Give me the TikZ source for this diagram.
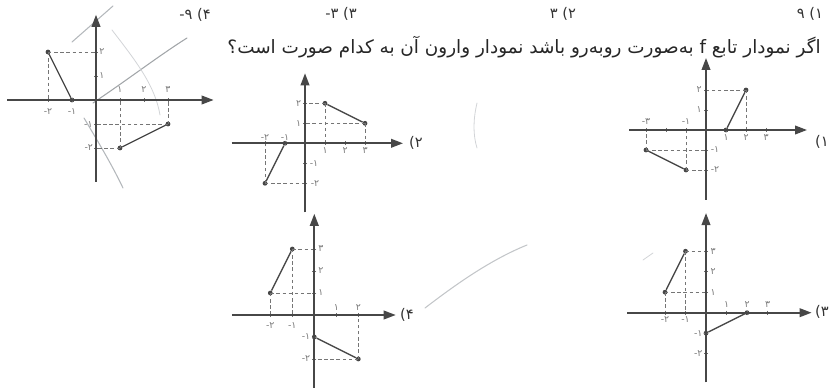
\documentclass[tikz,border=0pt]{standalone}
\usepackage{fontspec}
\TeXXeTstate=1
\newfontfamily\fa[Script=Arabic]{DejaVu Sans}
\usetikzlibrary{arrows.meta}
\definecolor{axisgray}{HTML}{474747}
\definecolor{labgray}{HTML}{7A7A7A}
\definecolor{scrib}{HTML}{B4B8BC}
\tikzset{
  axisline/.style={draw=axisgray, line width=1.3pt, -{Triangle[length=9pt,width=6.5pt]}},
  seg/.style={draw=axisgray, line width=1pt},
  guide/.style={draw=axisgray!75, dash pattern=on 2.6pt off 2pt, line width=0.5pt},
  tickmark/.style={draw=axisgray!80, line width=0.5pt},
  dot/.style={circle, fill=axisgray, inner sep=0pt, minimum size=3.6pt},
  tick/.style={font=\fa\fontsize{7}{8}\selectfont, text=labgray, inner sep=0.5pt},
  opt/.style={font=\fa\fontsize{11}{12}\selectfont, text=black!80, inner sep=0pt},
  scribble/.style={draw=scrib, line width=0.8pt, line cap=round},
}
\newcommand\plbl[4]{\node[tick] (#1) at (#2,#3) {#4};}
\begin{document}
\begin{tikzpicture}[x=0.75pt,y=-0.75pt]
\useasboundingbox (0,0) rectangle (830,388);

% ---------- question text and answer options ----------
\node[opt] (o4) at (195,15) {\beginR ۴) ۹-\endR};
\node[opt] (o3) at (341,14) {\beginR ۳) ۳-\endR};
\node[opt] (o2) at (563,14) {\beginR ۲) ۳\endR};
\node[opt] (o1) at (810,14) {\beginR ۱) ۹\endR};
\node[font=\fa\fontsize{13.8}{15}\selectfont, text=black!85, anchor=east, inner sep=0pt] (q) at (821,47)
  {\beginR اگر نمودار تابع f به‌صورت روبه‌رو باشد نمودار وارون آن به کدام صورت است؟\endR};

% ---------- pencil marks ----------
\draw[scribble] (72,42) -- (113,6);
\draw[scribble, draw=scrib!90!black] (93,103) .. controls (130,78) and (160,55) .. (187,38);
\draw[scribble] (84,118) .. controls (100,145) and (112,165) .. (123,188);
\draw[scribble, draw=scrib!60, line width=0.6pt] (112,30) .. controls (135,60) and (155,85) .. (160,115);
\draw[scribble, draw=scrib!80] (425,308) .. controls (455,285) and (490,260) .. (527,245);
\draw[scribble, draw=scrib!60, line width=0.6pt] (477,103) .. controls (473,120) and (473,135) .. (477,148);
\draw[scribble, draw=scrib!60, line width=0.6pt] (643,260) -- (653,253);

% ---------- graph of f ----------
\begin{scope}[shift={(96,100)}, x=18pt, y=18pt]
  \coordinate (f-o) at (0,0);
  \coordinate (f-xl) at (-3.7,0); \coordinate (f-xr) at (4.9,0);
  \coordinate (f-yb) at (0,-3.4); \coordinate (f-yt) at (0,3.55);
  \node[dot] (f-a) at (-2,2) {}; \node[dot] (f-b) at (-1,0) {};
  \node[dot] (f-c) at (1,-2) {}; \node[dot] (f-d) at (3,-1) {};
  \draw[guide] (f-a.center) -- (f-a.center -| f-o);
  \draw[guide] (f-a.center) -- (f-a.center |- f-o);
  \draw[guide] (f-d.center) -- (f-d.center -| f-o);
  \draw[guide] (f-d.center) -- (f-d.center |- f-o);
  \draw[guide] (f-c.center) -- (f-c.center -| f-o);
  \draw[guide] (f-c.center) -- (f-c.center |- f-o);
  \foreach \t in {-2,-1,1,2,3} \draw[tickmark] (\t,0.08) -- (\t,-0.08);
  \foreach \t in {-2,-1,1,2} \draw[tickmark] (0.08,\t) -- (-0.08,\t);
  \draw[axisline] (f-xl) -- (f-xr);
  \draw[axisline] (f-yb) -- (f-yt);
  \draw[seg] (f-a) -- (f-b);
  \draw[seg] (f-c) -- (f-d);
  \plbl{f-l1}{-2}{-0.5}{۲-} \plbl{f-l2}{-1}{-0.5}{۱-}
  \plbl{f-l3}{1}{0.42}{۱} \plbl{f-l4}{2}{0.42}{۲} \plbl{f-l5}{3}{0.42}{۳}
  \plbl{f-l6}{0.25}{2}{۲} \plbl{f-l7}{0.25}{1}{۱}
  \plbl{f-l8}{-0.32}{-1.04}{۱-} \plbl{f-l9}{-0.3}{-2}{۲-}
\end{scope}

% ---------- option 2 ----------
\begin{scope}[shift={(305,143.3)}, x=15pt, y=15pt]
  \coordinate (b-o) at (0,0);
  \coordinate (b-xl) at (-3.67,0); \coordinate (b-xr) at (4.9,0);
  \coordinate (b-yb) at (0,-3.45); \coordinate (b-yt) at (0,3.5);
  \node[dot] (b-p) at (1,2) {}; \node[dot] (b-q) at (3,1) {};
  \node[dot] (b-r) at (-2,-2) {}; \node[dot] (b-s) at (-1,0) {};
  \draw[guide] (b-p.center) -- (b-p.center -| b-o);
  \draw[guide] (b-p.center) -- (b-p.center |- b-o);
  \draw[guide] (b-q.center) -- (b-q.center -| b-o);
  \draw[guide] (b-q.center) -- (b-q.center |- b-o);
  \draw[guide] (b-r.center) -- (b-r.center -| b-o);
  \draw[guide] (b-r.center) -- (b-r.center |- b-o);
  \foreach \t in {-2,-1,1,2,3} \draw[tickmark] (\t,0.1) -- (\t,-0.1);
  \foreach \t in {-2,-1,1,2} \draw[tickmark] (0.1,\t) -- (-0.1,\t);
  \draw[axisline] (b-xl) -- (b-xr);
  \draw[axisline] (b-yb) -- (b-yt);
  \draw[seg] (b-p) -- (b-q);
  \draw[seg] (b-r) -- (b-s);
  \plbl{b-l1}{-2}{0.3}{۲-} \plbl{b-l2}{-1}{0.3}{۱-}
  \plbl{b-l3}{1}{-0.35}{۱} \plbl{b-l4}{2}{-0.35}{۲} \plbl{b-l5}{3}{-0.35}{۳}
  \plbl{b-l6}{-0.32}{2}{۲} \plbl{b-l7}{-0.32}{1}{۱}
  \plbl{b-l8}{0.45}{-1}{۱-} \plbl{b-l9}{0.5}{-2}{۲-}
\end{scope}
\node[opt] (o2b) at (416,143) {۲)};

% ---------- option 1 ----------
\begin{scope}[shift={(706,130)}, x=15pt, y=15pt]
  \coordinate (a-o) at (0,0);
  \coordinate (a-xl) at (-3.85,0); \coordinate (a-xr) at (5.05,0);
  \coordinate (a-yb) at (0,-3.5); \coordinate (a-yt) at (0,3.6);
  \node[dot] (a-p) at (1,0) {}; \node[dot] (a-q) at (2,2) {};
  \node[dot] (a-r) at (-3,-1) {}; \node[dot] (a-s) at (-1,-2) {};
  \draw[guide] (a-q.center) -- (a-q.center -| a-o);
  \draw[guide] (a-q.center) -- (a-q.center |- a-o);
  \draw[guide] (a-r.center) -- (a-r.center -| a-o);
  \draw[guide] (a-r.center) -- (a-r.center |- a-o);
  \draw[guide] (a-s.center) -- (a-s.center -| a-o);
  \draw[guide] (a-s.center) -- (a-s.center |- a-o);
  \foreach \t in {-3,-2,-1,1,2,3} \draw[tickmark] (\t,0.1) -- (\t,-0.1);
  \foreach \t in {-2,-1,1,2} \draw[tickmark] (0.1,\t) -- (-0.1,\t);
  \draw[axisline] (a-xl) -- (a-xr);
  \draw[axisline] (a-yb) -- (a-yt);
  \draw[seg] (a-p) -- (a-q);
  \draw[seg] (a-r) -- (a-s);
  \plbl{a-l1}{-3}{0.42}{۳-} \plbl{a-l2}{-1}{0.42}{۱-}
  \plbl{a-l3}{1}{-0.37}{۱} \plbl{a-l4}{2}{-0.37}{۲} \plbl{a-l5}{3}{-0.37}{۳}
  \plbl{a-l6}{-0.35}{2}{۲} \plbl{a-l7}{-0.35}{1}{۱}
  \plbl{a-l8}{0.45}{-1}{۱-} \plbl{a-l9}{0.45}{-2}{۲-}
\end{scope}
\node[opt] (o1b) at (822,142) {۱)};

% ---------- option 4 ----------
\begin{scope}[shift={(314.3,315)}, x=16.5pt, y=16.5pt]
  \coordinate (d-o) at (0,0);
  \coordinate (d-xl) at (-3.75,0); \coordinate (d-xr) at (3.7,0);
  \coordinate (d-yb) at (0,-3.4); \coordinate (d-yt) at (0,4.6);
  \node[dot] (d-p) at (-2,1) {}; \node[dot] (d-q) at (-1,3) {};
  \node[dot] (d-r) at (0,-1) {}; \node[dot] (d-s) at (2,-2) {};
  \draw[guide] (d-q.center) -- (d-q.center -| d-o);
  \draw[guide] (d-q.center) -- (d-q.center |- d-o);
  \draw[guide] (d-p.center) -- (d-p.center -| d-o);
  \draw[guide] (d-p.center) -- (d-p.center |- d-o);
  \draw[guide] (d-s.center) -- (d-s.center -| d-o);
  \draw[guide] (d-s.center) -- (d-s.center |- d-o);
  \foreach \t in {-2,-1,1,2} \draw[tickmark] (\t,0.09) -- (\t,-0.09);
  \foreach \t in {-2,-1,1,2,3} \draw[tickmark] (0.09,\t) -- (-0.09,\t);
  \draw[axisline] (d-xl) -- (d-xr);
  \draw[axisline] (d-yb) -- (d-yt);
  \draw[seg] (d-p) -- (d-q);
  \draw[seg] (d-r) -- (d-s);
  \plbl{d-l1}{-2}{-0.5}{۲-} \plbl{d-l2}{-1}{-0.5}{۱-}
  \plbl{d-l3}{1}{0.33}{۱} \plbl{d-l4}{2}{0.33}{۲}
  \plbl{d-l5}{0.3}{3}{۳} \plbl{d-l6}{0.3}{2}{۲} \plbl{d-l7}{0.3}{1}{۱}
  \plbl{d-l8}{-0.38}{-1}{۱-} \plbl{d-l9}{-0.38}{-2}{۲-}
\end{scope}
\node[opt] (o4b) at (407,315) {۴)};

% ---------- option 3 ----------
\begin{scope}[shift={(706,312.7)}, x=15.375pt, y=15.375pt]
  \coordinate (c-o) at (0,0);
  \coordinate (c-xl) at (-3.85,0); \coordinate (c-xr) at (5.15,0);
  \coordinate (c-yb) at (0,-3.4); \coordinate (c-yt) at (0,4.86);
  \node[dot] (c-p) at (-2,1) {}; \node[dot] (c-q) at (-1,3) {};
  \node[dot] (c-r) at (0,-1) {}; \node[dot] (c-s) at (2,0) {};
  \draw[guide] (c-q.center) -- (c-q.center -| c-o);
  \draw[guide] (c-q.center) -- (c-q.center |- c-o);
  \draw[guide] (c-p.center) -- (c-p.center -| c-o);
  \draw[guide] (c-p.center) -- (c-p.center |- c-o);
  \foreach \t in {-2,-1,1,2,3} \draw[tickmark] (\t,0.1) -- (\t,-0.1);
  \foreach \t in {-2,-1,1,2,3} \draw[tickmark] (0.1,\t) -- (-0.1,\t);
  \draw[axisline] (c-xl) -- (c-xr);
  \draw[axisline] (c-yb) -- (c-yt);
  \draw[seg] (c-p) -- (c-q);
  \draw[seg] (c-r) -- (c-s);
  \plbl{c-l1}{-2}{-0.35}{۲-} \plbl{c-l2}{-1}{-0.35}{۱-}
  \plbl{c-l3}{1}{0.4}{۱} \plbl{c-l4}{2}{0.4}{۲} \plbl{c-l5}{3}{0.4}{۳}
  \plbl{c-l6}{0.35}{3}{۳} \plbl{c-l7}{0.35}{2}{۲} \plbl{c-l8}{0.35}{1}{۱}
  \plbl{c-l9}{-0.38}{-1}{۱-} \plbl{c-l10}{-0.38}{-2}{۲-}
\end{scope}
\node[opt] (o3b) at (822,312) {۳)};
\end{tikzpicture}
\end{document}
